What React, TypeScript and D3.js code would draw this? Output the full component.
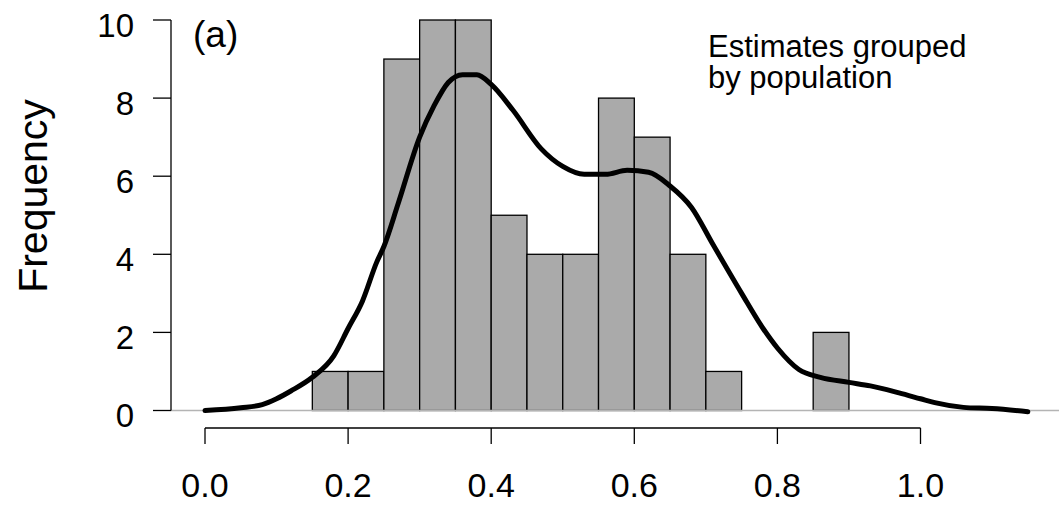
import React from 'react';
import * as d3 from 'd3';

// histogram bins (width 0.05) and counts
const binStarts = [0.15, 0.2, 0.25, 0.3, 0.35, 0.4, 0.45, 0.5, 0.55, 0.6, 0.65, 0.7, 0.75, 0.8, 0.85];
const binCounts = [1, 1, 9, 10, 10, 5, 4, 4, 8, 7, 4, 1, 0, 0, 2];
const binWidth = 0.05;

// density curve, scaled to frequency
const densX = [0, 0.05, 0.08, 0.1, 0.12, 0.15, 0.18, 0.2, 0.22, 0.24, 0.25, 0.27, 0.3, 0.32, 0.34, 0.36, 0.38, 0.4, 0.43, 0.47, 0.5, 0.53, 0.56, 0.59, 0.62, 0.65, 0.68, 0.71, 0.75, 0.78, 0.8, 0.83, 0.86, 0.9, 0.93, 0.97, 1.0, 1.02, 1.06, 1.1, 1.15];
const densY = [0.0, 0.07, 0.15, 0.3, 0.5, 0.85, 1.4, 2.1, 2.8, 3.8, 4.2, 5.3, 7.0, 7.8, 8.4, 8.6, 8.6, 8.35, 7.7, 6.7, 6.25, 6.05, 6.05, 6.15, 6.1, 5.75, 5.2, 4.25, 3.0, 2.1, 1.6, 1.05, 0.85, 0.72, 0.63, 0.45, 0.3, 0.2, 0.08, 0.05, -0.03];

const xTicks = [0, 0.2, 0.4, 0.6, 0.8, 1.0];
const yTicks = [0, 2, 4, 6, 8, 10];
const noteLines = ['Estimates grouped', 'by population'];

const W = 1059;
const H = 506;
const font = 'Liberation Sans, Arial, sans-serif';

export default function App() {
  const x = d3.scaleLinear().domain([0, 1]).range([205, 920.5]);
  const y = d3.scaleLinear().domain([0, 10]).range([410.5, 20]);

  const pts: [number, number][] = densX.map((d, i) => [d, densY[i]]);
  const line = d3.line<[number, number]>()
    .x(d => x(d[0]))
    .y(d => y(d[1]))
    .curve(d3.curveMonotoneX);

  const axisX = 171;
  const axisY = 428;

  return (
    <svg width={W} height={H} style={{ position: 'absolute', left: 0, top: 0, background: '#fff' }}
      fontFamily={font}>
      {/* bars */}
      {binStarts.map((b, i) => binCounts[i] > 0 && (
        <rect key={i}
          x={x(b)} y={y(binCounts[i])}
          width={x(b + binWidth) - x(b)} height={y(0) - y(binCounts[i])}
          fill="#aaaaaa" stroke="#000" strokeWidth={1.3} />
      ))}

      {/* zero line */}
      <line x1={axisX} x2={W} y1={y(0)} y2={y(0)} stroke="#b4b4b4" strokeWidth={1.5} />

      {/* density */}
      <path d={line(pts) ?? ''} fill="none" stroke="#000" strokeWidth={5} strokeLinejoin="round" strokeLinecap="round" />

      {/* y axis */}
      <line x1={axisX} x2={axisX} y1={y(0)} y2={y(10)} stroke="#000" strokeWidth={1.3} />
      {yTicks.map(t => (
        <g key={t}>
          <line x1={axisX - 18} x2={axisX} y1={y(t)} y2={y(t)} stroke="#000" strokeWidth={1.3} />
          <text x={134} y={y(t) + 16.5} textAnchor="end" fontSize={33}>{t}</text>
        </g>
      ))}

      {/* x axis */}
      <line x1={x(0)} x2={x(1)} y1={axisY} y2={axisY} stroke="#000" strokeWidth={1.3} />
      {xTicks.map(t => (
        <g key={t}>
          <line x1={x(t)} x2={x(t)} y1={axisY} y2={axisY + 16} stroke="#000" strokeWidth={1.3} />
          <text x={x(t)} y={497} textAnchor="middle" fontSize={34}>{t.toFixed(1)}</text>
        </g>
      ))}

      {/* labels */}
      <text transform="translate(47,196) rotate(-90)" textAnchor="middle" fontSize={41}>Frequency</text>
      <text x={193} y={47} fontSize={37}>(a)</text>
      <text x={708} y={57} fontSize={31}>
        {noteLines.map((s, i) => (
          <tspan key={i} x={708} dy={i === 0 ? 0 : 31}>{s}</tspan>
        ))}
      </text>
    </svg>
  );
}
